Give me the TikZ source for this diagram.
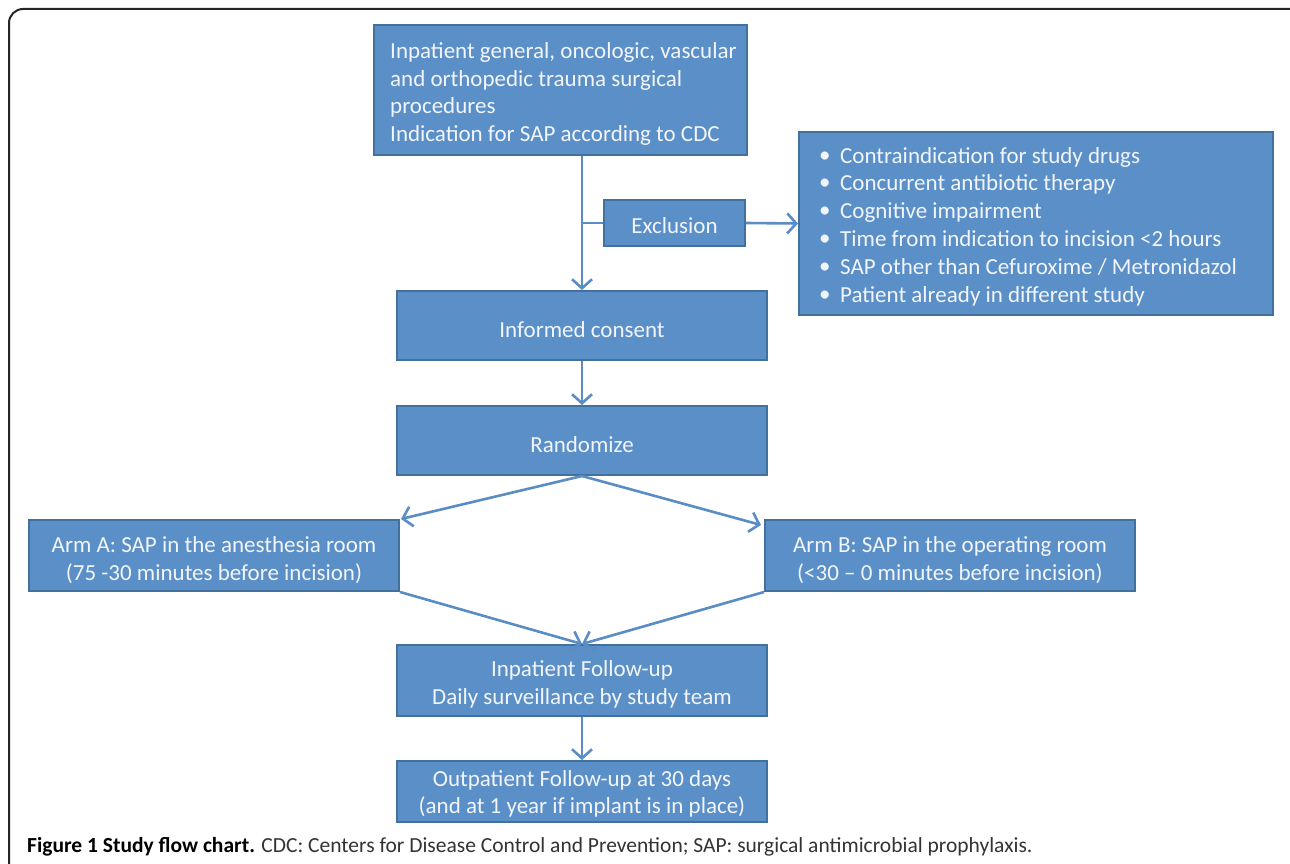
\documentclass[tikz,border=0pt]{standalone}
\usepackage{fontspec}
\setmainfont{Carlito}
\usetikzlibrary{arrows.meta}
\definecolor{boxfill}{HTML}{5B8FC8}
\definecolor{boxedge}{HTML}{41719C}
\definecolor{arrowc}{HTML}{5A8DC6}
\definecolor{txt}{HTML}{F2F5FA}
\tikzset{
  flowbox/.style={draw=boxedge, line width=2pt, fill=boxfill, inner sep=0pt},
  boxtext/.style={text=txt, inner sep=0pt, font=\fontsize{23}{27.5}\selectfont},
  conn/.style={draw=arrowc, line width=2.6pt},
  arr/.style={conn, -{Straight Barb[length=9pt,width=20pt,line width=2.6pt]}},
}
\newcommand{\bul}{\makebox[21pt][l]{\raisebox{1pt}{\textbullet}}}
\begin{document}
\begin{tikzpicture}[x=1pt,y=-1pt]
\useasboundingbox (0,0) rectangle (1290,864);
\clip (0,0) rectangle (1290,864);
\fill[white] (0,0) rectangle (1290,864);
\draw[black!85, line width=2pt, rounded corners=14pt] (9,9) rectangle (1320,900);

% boxes
\node[flowbox, minimum width=373pt, minimum height=130pt] (top) at (560.5,90) {};
\node[boxtext, anchor=base west, align=left] (toptext) at (390,141.5)
  {Inpatient general, oncologic, vascular\\and orthopedic trauma surgical\\procedures\\Indication for SAP according to CDC};

\node[flowbox, minimum width=141pt, minimum height=46pt] (excl) at (674.5,223) {};
\node[boxtext] (exclT) at ([yshift=-3pt]excl.center) {Exclusion};

\node[flowbox, minimum width=474pt, minimum height=183pt] (crit) at (1036,223.5) {};
\node[boxtext, anchor=base west, align=left, font=\fontsize{23}{27.8}\selectfont] (crittext) at (819,302)
  {\bul Contraindication for study drugs\\
   \bul Concurrent antibiotic therapy\\
   \bul Cognitive impairment\\
   \bul Time from indication to incision <2 hours\\
   \bul SAP other than Cefuroxime / Metronidazol\\
   \bul Patient already in different study};

\node[flowbox, minimum width=370pt, minimum height=69pt] (consent) at (582,325.5) {};
\node[boxtext] (consentT) at ([yshift=-4pt]consent.center) {Informed consent};
\node[flowbox, minimum width=370pt, minimum height=69pt] (rand) at (582,440.5) {};
\node[boxtext] (randT) at ([yshift=-4pt]rand.center) {Randomize};
\node[flowbox, minimum width=370pt, minimum height=71pt] (armA) at (214,555.5) {};
\node[boxtext, align=center] (armAT) at ([yshift=-4.5pt]armA.center)
  {Arm A: SAP in the anesthesia room\\(75 -30 minutes before incision)};
\node[flowbox, minimum width=370pt, minimum height=71pt] (armB) at (950,555.5) {};
\node[boxtext, align=center] (armBT) at ([yshift=-4.5pt]armB.center)
  {Arm B: SAP in the operating room\\(<30 -- 0 minutes before incision)};
\node[flowbox, minimum width=370pt, minimum height=71pt] (inpat) at (582,680.5) {};
\node[boxtext, align=center] (inpatT) at ([yshift=-4pt]inpat.center)
  {Inpatient Follow-up\\Daily surveillance by study team};
\node[flowbox, minimum width=370pt, minimum height=61pt] (outpat) at (582,791.5) {};
\node[boxtext, align=center] (outpatT) at ([yshift=-2.5pt]outpat.center)
  {Outpatient Follow-up at 30 days\\(and at 1 year if implant is in place)};

% connectors
\coordinate (branch) at (582,223);
\draw[arr] (582,156) -- (consent.north);
\draw[conn] (branch) -- (excl.west);
\draw[arr] (excl.east) -- (crit.west);
\draw[arr] (consent.south) -- (rand.north);
\draw[arr] (rand.south) -- ([xshift=1pt]armA.north east);
\draw[arr] (rand.south) -- ([xshift=-3pt,yshift=-6pt]armB.north west);
\draw[arr] (armA.south east) -- (inpat.north);
\draw[arr] (armB.south west) -- (inpat.north);
\draw[arr] (inpat.south) -- (outpat.north);

% caption
\node[anchor=base west, inner sep=0pt, font=\fontsize{21.5}{24}\selectfont, text=black!80] (cap) at (27,852)
  {\textbf{\color{black}Figure 1 Study flow chart.} CDC: Centers for Disease Control and Prevention; SAP: surgical antimicrobial prophylaxis.};
\end{tikzpicture}
\end{document}
